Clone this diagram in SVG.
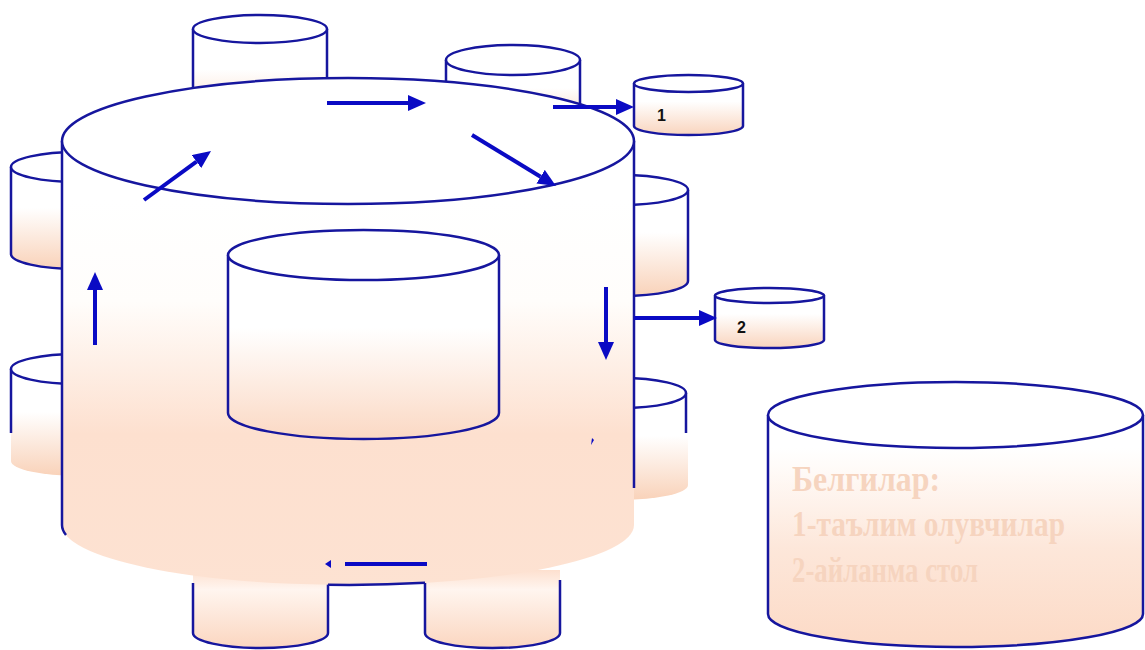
<svg xmlns="http://www.w3.org/2000/svg" width="1145" height="650" viewBox="0 0 1145 650">
<style>
.ol{stroke:#16169e;stroke-width:2.5;fill:none}
.top{fill:#ffffff;stroke:#16169e;stroke-width:2.5}
.ar{stroke:#0a0ac4;stroke-width:4;fill:none}
.lbl{font-family:"Liberation Sans",Arial,sans-serif;font-weight:bold;font-size:16px;fill:#111}
.leg{font-family:"Liberation Serif","Times New Roman",serif;font-weight:bold;font-size:36px;fill:#f6d4bf}
</style>
<defs>
<linearGradient id="gSide" x1="0" y1="0" x2="0" y2="1">
<stop offset="0" stop-color="#ffffff"/><stop offset="0.4" stop-color="#ffffff"/><stop offset="1" stop-color="#f9d2b9"/>
</linearGradient>
<linearGradient id="gMain" gradientUnits="userSpaceOnUse" x1="0" y1="200" x2="0" y2="590">
<stop offset="0" stop-color="#ffffff"/><stop offset="0.26" stop-color="#fffdfb"/><stop offset="0.6" stop-color="#fde0cf"/><stop offset="1" stop-color="#fde2d2"/>
</linearGradient>
<linearGradient id="gInner" gradientUnits="userSpaceOnUse" x1="0" y1="280" x2="0" y2="440">
<stop offset="0" stop-color="#ffffff"/><stop offset="0.3" stop-color="#ffffff"/><stop offset="1" stop-color="#fbd8c3"/>
</linearGradient>
<linearGradient id="gLegend" gradientUnits="userSpaceOnUse" x1="0" y1="448" x2="0" y2="647">
<stop offset="0" stop-color="#ffffff"/><stop offset="0.1" stop-color="#fffbf8"/><stop offset="0.5" stop-color="#fde7da"/><stop offset="1" stop-color="#fcdac6"/>
</linearGradient>
<linearGradient id="gLeg" x1="0" y1="0" x2="0" y2="1">
<stop offset="0" stop-color="#fde0cf"/><stop offset="0.25" stop-color="#fff5ef"/><stop offset="1" stop-color="#fbd6c0"/>
</linearGradient>
<linearGradient id="gSmall" x1="0" y1="0" x2="0" y2="1">
<stop offset="0" stop-color="#ffffff"/><stop offset="0.35" stop-color="#ffffff"/><stop offset="1" stop-color="#f9d4bd"/>
</linearGradient>
<marker id="ah" viewBox="0 0 18 16" refX="0" refY="8" markerWidth="18" markerHeight="16" markerUnits="userSpaceOnUse" orient="auto">
<path d="M0,0 L18,8 L0,16 Z" fill="#0a0ac4"/>
</marker>
</defs>

<!-- back top cylinders -->
<g id="back-top-left">
<path d="M193,29 V130 H327 V29 Z" fill="url(#gSide)"/>
<path class="ol" d="M193,29 V130 M327,29 V130"/>
<ellipse class="top" cx="260" cy="29" rx="67" ry="14"/>
</g>
<g id="back-top-right">
<path d="M446,60 V130 H580 V60 Z" fill="url(#gSide)"/>
<path class="ol" d="M446,60 V130 M580,60 V130"/>
<ellipse class="top" cx="513" cy="60" rx="67" ry="15"/>
</g>

<!-- side cylinders -->
<g id="side-left-upper">
<path d="M11,167 V254 A67,15 0 0 0 145,254 V167 Z" fill="url(#gSide)"/>
<path class="ol" d="M11,167 V254 A67,15 0 0 0 145,254"/>
<ellipse class="top" cx="78" cy="167" rx="67" ry="15"/>
</g>
<g id="side-left-lower">
<path d="M11,369 V461 A67,15 0 0 0 145,461 V369 Z" fill="url(#gSide)"/>
<path class="ol" d="M11,369 V433"/>
<ellipse class="top" cx="78" cy="369" rx="67" ry="15"/>
</g>
<g id="side-right-upper">
<path d="M554,190 V281 A67,15 0 0 0 688,281 V190 Z" fill="url(#gSide)"/>
<path class="ol" d="M554,281 A67,15 0 0 0 688,281 V190"/>
<ellipse class="top" cx="621" cy="190" rx="67" ry="15"/>
</g>
<g id="side-right-lower">
<path d="M554,393 V485 A67,15 0 0 0 688,485 V393 Z" fill="url(#gSide)"/>
<path class="ol" d="M686,393 V433"/>
<ellipse class="top" cx="621" cy="393" rx="65" ry="15"/>
</g>

<!-- bottom legs -->
<g id="leg-left">
<path d="M193,570 V633 A67.5,15 0 0 0 328,633 V570 Z" fill="url(#gLeg)"/>
<path class="ol" d="M193,583 V633 A67.5,15 0 0 0 328,633 V584"/>
</g>
<g id="leg-right">
<path d="M425,570 V633 A67.5,15 0 0 0 560,633 V570 Z" fill="url(#gLeg)"/>
<path class="ol" d="M425,583 V633 A67.5,15 0 0 0 560,633 V580"/>
</g>

<!-- main cylinder -->
<g id="main-cylinder">
<path d="M62,141 A286,63 0 0 1 634,141 V525 A286,60 0 0 1 62,525 Z" fill="url(#gMain)"/>
<path class="ol" d="M62,141 V525 A286,60 0 0 0 66,535"/>
<path class="ol" d="M634,141 V488"/>
<path class="ol" d="M328,584.8 A286,60 0 0 0 425,582.8"/>
<ellipse class="top" cx="348" cy="141" rx="286" ry="63"/>
</g>

<!-- inner cylinder -->
<g id="inner-cylinder">
<path d="M228,255 V413 A135.5,26 0 0 0 499,413 V255 Z" fill="url(#gInner)"/>
<path class="ol" d="M228,255 V413 A135.5,26 0 0 0 499,413 V255"/>
<ellipse class="top" cx="363.5" cy="255" rx="135.5" ry="25"/>
</g>

<!-- small cylinders -->
<g id="node-1">
<path d="M634,83.5 V126 A54.5,9 0 0 0 743,126 V83.5 Z" fill="url(#gSmall)"/>
<path class="ol" d="M634,83.5 V126 A54.5,9 0 0 0 743,126 V83.5"/>
<ellipse class="top" cx="688.5" cy="83.5" rx="54.5" ry="8.5"/>
<text class="lbl" x="657" y="121">1</text>
</g>
<g id="node-2">
<path d="M715,295.5 V340 A54.5,8 0 0 0 824,340 V295.5 Z" fill="url(#gSmall)"/>
<path class="ol" d="M715,295.5 V340 A54.5,8 0 0 0 824,340 V295.5"/>
<ellipse class="top" cx="769.5" cy="295.5" rx="54.5" ry="7.5"/>
<text class="lbl" x="737" y="333">2</text>
</g>

<!-- legend cylinder -->
<g id="legend">
<path d="M768,415 V614 A187.5,33 0 0 0 1143,614 V415 Z" fill="url(#gLegend)"/>
<path class="ol" d="M768,415 V614 A187.5,33 0 0 0 1143,614 V415"/>
<ellipse class="top" cx="955.5" cy="415" rx="187.5" ry="33"/>
<text class="leg" x="792" y="491" textLength="148" lengthAdjust="spacingAndGlyphs">Белгилар:</text>
<text class="leg" x="792" y="536" textLength="273" lengthAdjust="spacingAndGlyphs">1-таълим олувчилар</text>
<text class="leg" x="792" y="582" textLength="186" lengthAdjust="spacingAndGlyphs">2-айланма стол</text>
</g>

<!-- connectors -->
<g id="connectors">
<line class="ar" x1="327" y1="103" x2="408" y2="103" marker-end="url(#ah)"/>
<line class="ar" x1="144" y1="200" x2="196.5" y2="161.6" marker-end="url(#ah)"/>
<line class="ar" x1="472" y1="135" x2="540.6" y2="176.7" marker-end="url(#ah)"/>
<line class="ar" x1="95" y1="345" x2="95" y2="290" marker-end="url(#ah)"/>
<line class="ar" x1="606" y1="287" x2="606" y2="342" marker-end="url(#ah)"/>
<line class="ar" x1="553" y1="107" x2="616" y2="107" marker-end="url(#ah)"/>
<line class="ar" x1="634" y1="318" x2="699" y2="318" marker-end="url(#ah)"/>
<line class="ar" x1="427" y1="564" x2="345" y2="564" stroke-width="5"/>
<path d="M325,564 L331,560 L331,568 Z" fill="#0a0ac4"/>
<path d="M591,445 L592,438 L594,440 Z" fill="#0a0ac4"/>
</g>
</svg>
